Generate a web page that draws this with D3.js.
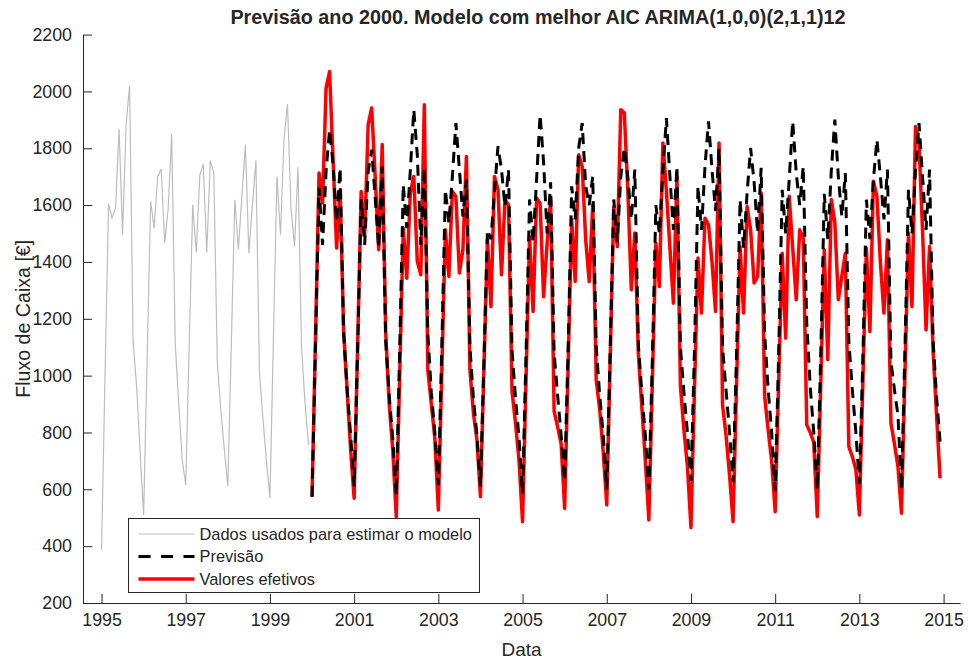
<!DOCTYPE html>
<html>
<head>
<meta charset="utf-8">
<script src="https://cdn.jsdelivr.net/npm/d3@7"></script>
<style>
  body { margin: 0; background: #fff; }
  svg { display: block; }
  text { font-family: "Liberation Sans", Arial, Helvetica, sans-serif; fill: #262626; }
</style>
</head>
<body>
<svg id="chart" width="968" height="661"></svg>
<script>
// Monthly cash flow (EUR). Estimation sample 1995-1999.
const trainingStartYear = 1995;
const trainingValues = [
  387, 1000, 1604, 1555, 1590, 1868, 1496, 1883, 2020, 1120, 962, 730,   // 1995
  510, 1060, 1613, 1519, 1701, 1727, 1467, 1590, 1850, 1114, 904, 703,   // 1996
  615, 1110, 1601, 1433, 1703, 1745, 1433, 1756, 1713, 1044, 880, 740,   // 1997
  612, 1115, 1619, 1445, 1630, 1813, 1431, 1600, 1757, 1014, 850, 700,   // 1998
  569, 1135, 1701, 1496, 1830, 1956, 1590, 1454, 1734, 1102, 904, 756    // 1999
];

// Forecast horizon 2000-2014
const forecastStartYear = 2000;
const forecastValues = [
  574, 1120, 1661, 1460, 1719, 1865, 1742, 1542, 1731, 1150, 950, 790,   // 2000
  610, 1100, 1620, 1460, 1719, 1795, 1626, 1449, 1736, 1120, 930, 780,   // 2001
  580, 1100, 1672, 1519, 1720, 1936, 1777, 1460, 1731, 1150, 940, 800,   // 2002
  615, 1110, 1654, 1537, 1701, 1889, 1725, 1560, 1689, 1100, 920, 790,   // 2003
  610, 1050, 1513, 1480, 1650, 1807, 1725, 1595, 1725, 1090, 920, 780,   // 2004
  585, 1080, 1620, 1470, 1690, 1918, 1750, 1500, 1680, 1080, 930, 790,   // 2005
  630, 1100, 1666, 1550, 1801, 1889, 1666, 1600, 1701, 1100, 930, 790,   // 2006
  600, 1100, 1620, 1470, 1700, 1801, 1700, 1550, 1725, 1110, 940, 790,   // 2007
  600, 1060, 1600, 1500, 1720, 1906, 1700, 1513, 1736, 1100, 940, 800,   // 2008
  630, 1090, 1666, 1513, 1736, 1895, 1725, 1580, 1800, 1100, 950, 800,   // 2009
  625, 1080, 1619, 1450, 1643, 1801, 1680, 1502, 1731, 1150, 950, 800,   // 2010
  595, 1080, 1654, 1500, 1690, 1895, 1713, 1600, 1736, 1185, 960, 800,   // 2011
  600, 1080, 1640, 1480, 1720, 1901, 1700, 1560, 1713, 1120, 950, 800,   // 2012
  620, 1060, 1619, 1480, 1690, 1830, 1700, 1550, 1725, 1050, 950, 860,   // 2013
  600, 1100, 1654, 1500, 1720, 1889, 1700, 1513, 1725, 1126, 926, 768    // 2014
];

const actualValues = [
  574, 1140, 1713, 1608, 2012, 2070, 1760, 1449, 1654, 1160, 950, 740,   // 2000
  569, 1110, 1648, 1496, 1883, 1942, 1700, 1443, 1813, 1150, 900, 740,   // 2001
  504, 1010, 1519, 1343, 1640, 1701, 1402, 1355, 1953, 1020, 900, 780,   // 2002
  527, 1020, 1513, 1349, 1648, 1630, 1361, 1443, 1771, 1020, 868, 774,   // 2003
  574, 1030, 1478, 1243, 1701, 1654, 1355, 1619, 1601, 944, 833, 700,    // 2004
  486, 990, 1490, 1226, 1625, 1607, 1278, 1466, 1619, 874, 820, 760,     // 2005
  533, 1040, 1549, 1331, 1777, 1736, 1478, 1331, 1601, 985, 880, 730,    // 2006
  545, 1070, 1595, 1454, 1936, 1924, 1654, 1302, 1502, 1080, 890, 700,   // 2007
  492, 980, 1466, 1314, 1819, 1650, 1450, 1255, 1701, 962, 809, 680,     // 2008
  465, 950, 1414, 1220, 1554, 1531, 1400, 1226, 1819, 897, 790, 650,     // 2009
  486, 970, 1454, 1220, 1595, 1513, 1326, 1349, 1643, 927, 809, 700,     // 2010
  521, 980, 1431, 1132, 1631, 1450, 1267, 1513, 1484, 827, 800, 765,     // 2011
  504, 970, 1443, 1056, 1620, 1540, 1267, 1350, 1431, 750, 715, 670,     // 2012
  510, 980, 1449, 1155, 1684, 1631, 1397, 1220, 1478, 833, 760, 680,     // 2013
  516, 1010, 1502, 1243, 1877, 1819, 1513, 1161, 1454, 1090, 860, 639    // 2014
];

const xTickYears = [1995, 1997, 1999, 2001, 2003, 2005, 2007, 2009, 2011, 2013, 2015];
const yTickValues = [200, 400, 600, 800, 1000, 1200, 1400, 1600, 1800, 2000, 2200];

const titleText = "Previsão ano 2000. Modelo com melhor AIC ARIMA(1,0,0)(2,1,1)12";
const xLabelText = "Data";
const yLabelText = "Fluxo de Caixa [€]";
const legendLabels = ["Dados usados para estimar o modelo", "Previsão", "Valores efetivos"];

// ---- layout ----
const plot = { left: 83, right: 960, top: 34.6, bottom: 603 };
const colors = { axis: "#262626", training: "#bdbdbd", forecast: "#000000", actual: "#ff0000" };

const svg = d3.select("#chart");

const x = d3.scaleLinear().domain([1994.56, 2015.39]).range([plot.left, plot.right]);
const y = d3.scaleLinear().domain([200, 2200]).range([plot.bottom, plot.top]);

// month index -> decimal year
const toSeries = (startYear, values) =>
  values.map((v, i) => ({ t: startYear + i / 12, v }));

const training = toSeries(trainingStartYear, trainingValues);
const forecast = toSeries(forecastStartYear, forecastValues);
const actual = toSeries(forecastStartYear, actualValues);

const line = d3.line().x(d => x(d.t)).y(d => y(d.v));

// ---- series ----
svg.append("path").datum(training)
  .attr("d", line).attr("fill", "none")
  .attr("stroke", colors.training).attr("stroke-width", 1.2);

svg.append("path").datum(actual)
  .attr("d", line).attr("fill", "none")
  .attr("stroke", colors.actual).attr("stroke-width", 3.5)
  .attr("stroke-linejoin", "round");

svg.append("path").datum(forecast)
  .attr("d", line).attr("fill", "none")
  .attr("stroke", colors.forecast).attr("stroke-width", 3)
  .attr("stroke-dasharray", "11,7");

// ---- axes ----
const xAxis = d3.axisBottom(x)
  .tickValues(xTickYears).tickFormat(d3.format("d"))
  .tickSizeInner(-9).tickSizeOuter(0).tickPadding(10);
const yAxis = d3.axisLeft(y)
  .tickValues(yTickValues).tickFormat(d3.format("d"))
  .tickSizeInner(-9).tickSizeOuter(0).tickPadding(11);

const gx = svg.append("g").attr("transform", `translate(0,${plot.bottom})`).call(xAxis);
const gy = svg.append("g").attr("transform", `translate(${plot.left},0)`).call(yAxis);

[gx, gy].forEach(g => {
  g.select(".domain").attr("stroke", colors.axis).attr("stroke-width", 1);
  g.selectAll(".tick line").attr("stroke", colors.axis).attr("stroke-width", 1);
  g.selectAll(".tick text").attr("fill", colors.axis)
    .style("font-size", "17.8px").attr("font-family", null);
});

// ---- title and labels ----
svg.append("text")
  .attr("x", 538).attr("y", 24)
  .attr("text-anchor", "middle")
  .style("font-size", "19.8px").style("font-weight", "bold")
  .text(titleText);

svg.append("text")
  .attr("x", (plot.left + plot.right) / 2).attr("y", 656)
  .attr("text-anchor", "middle")
  .style("font-size", "19px")
  .text(xLabelText);

svg.append("text")
  .attr("transform", `translate(30,${(plot.top + plot.bottom) / 2}) rotate(-90)`)
  .attr("text-anchor", "middle")
  .style("font-size", "19.6px")
  .text(yLabelText);

// ---- legend ----
const legend = svg.append("g").attr("transform", "translate(128.5,518.5)");
legend.append("rect")
  .attr("width", 351).attr("height", 74)
  .attr("fill", "#fff").attr("stroke", colors.axis).attr("stroke-width", 1);

const legendStyles = [
  { stroke: colors.training, width: 1.2, dash: null },
  { stroke: colors.forecast, width: 3, dash: "12,10.5" },
  { stroke: colors.actual, width: 3.5, dash: null }
];

legendLabels.forEach((label, i) => {
  const cy = 15.5 + i * 22.5;
  const st = legendStyles[i];
  legend.append("line")
    .attr("x1", 10).attr("x2", 66).attr("y1", cy).attr("y2", cy)
    .attr("stroke", st.stroke).attr("stroke-width", st.width)
    .attr("stroke-dasharray", st.dash);
  legend.append("text")
    .attr("x", 71).attr("y", cy).attr("dy", "0.35em")
    .style("font-size", "16.4px")
    .text(label);
});
</script>
</body>
</html>
